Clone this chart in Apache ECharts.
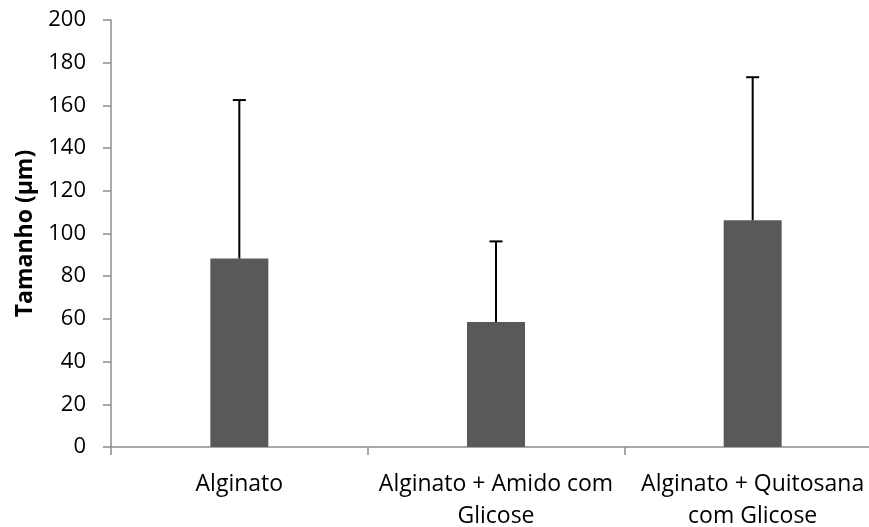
<!DOCTYPE html>
<html>
<head>
<meta charset="utf-8">
<script src="https://cdn.jsdelivr.net/npm/echarts@6/dist/echarts.min.js"></script>
<style>
html,body{margin:0;padding:0;background:#fff;}
#chart{width:869px;height:527px;}
</style>
</head>
<body>
<div id="chart"></div>
<script>
var categories = ['Alginato', 'Alginato + Amido com\nGlicose', 'Alginato + Quitosana\ncom Glicose'];
var means = [88.3, 58.5, 106.2];
var sds = [74.2, 37.8, 67.0];
var yTicks = {min: 0, max: 200, interval: 20};

var chart = echarts.init(document.getElementById('chart'), null, {renderer: 'canvas'});
var FONT = 'Open Sans';
var errData = means.map(function (m, i) { return [i, m, m + sds[i]]; });

chart.setOption({
  animation: false,
  backgroundColor: '#fff',
  grid: {left: 111, right: -12, top: 20, bottom: 80, containLabel: false, outerBoundsMode: 'none'},
  xAxis: {
    type: 'category',
    data: categories,
    axisLine: {show: true, lineStyle: {color: '#8c8c8c', width: 1.5}},
    axisTick: {show: true, length: 8, lineStyle: {color: '#8c8c8c', width: 1.5}},
    axisLabel: {color: '#000', fontFamily: FONT, fontSize: 23, lineHeight: 32, margin: 21, interval: 0}
  },
  yAxis: {
    type: 'value',
    min: yTicks.min, max: yTicks.max, interval: yTicks.interval,
    name: 'Tamanho (µm)',
    nameLocation: 'middle',
    nameGap: 74,
    nameTextStyle: {color: '#000', fontFamily: FONT, fontSize: 23, fontWeight: 'bold'},
    axisLine: {show: true, lineStyle: {color: '#8c8c8c', width: 1.5}},
    axisTick: {show: true, length: 8, lineStyle: {color: '#8c8c8c', width: 1.5}},
    axisLabel: {color: '#000', fontFamily: FONT, fontSize: 22, margin: 25},
    splitLine: {show: false}
  },
  series: [
    {
      type: 'bar',
      data: means,
      barWidth: 58,
      itemStyle: {color: '#595959'}
    },
    {
      type: 'custom',
      data: errData,
      z: 10,
      renderItem: function (params, api) {
        var x = api.value(0);
        var p0 = api.coord([x, api.value(1)]);
        var p1 = api.coord([x, api.value(2)]);
        var half = 6.5;
        var style = {stroke: '#000', lineWidth: 2};
        return {
          type: 'group',
          children: [
            {type: 'line', shape: {x1: p0[0], y1: p0[1], x2: p1[0], y2: p1[1]}, style: style},
            {type: 'line', shape: {x1: p1[0] - half, y1: p1[1], x2: p1[0] + half, y2: p1[1]}, style: style}
          ]
        };
      }
    }
  ]
});
</script>
</body>
</html>
